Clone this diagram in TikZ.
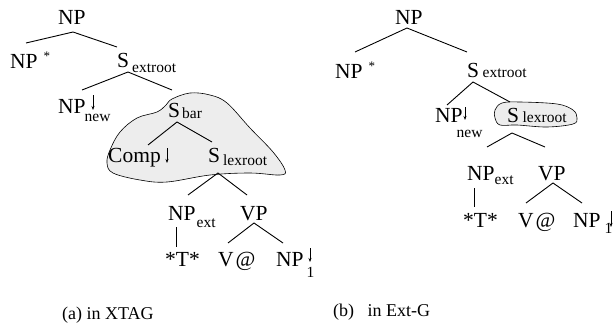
\documentclass[tikz,border=0pt]{standalone}
\usepackage{fontspec}
\setmainfont{Liberation Serif}
\usetikzlibrary{calc,arrows.meta}
\newcommand{\tsub}[3]{\rlap{\hspace{#1}\smash{\raisebox{-#2}{\fontsize{15.5}{16}\selectfont #3}}}}
\newcommand{\tstar}{\rlap{\hspace{6pt}\smash{\raisebox{8pt}{\fontsize{13}{13}\selectfont *}}}}
\begin{document}
\begin{tikzpicture}[x=1pt,y=-1pt,
  tn/.style={font=\fontsize{21.5}{24}\selectfont, inner sep=0pt, anchor=base west},
  captext/.style={font=\fontsize{18}{20}\selectfont, inner sep=0pt, anchor=base west},
  edge/.style={line width=0.9pt},
  blob/.style={fill=black!7, draw=black, line width=0.6pt},
  sarrow/.style={line width=0.6pt, -{Stealth[length=4pt,width=3pt]}}]
\useasboundingbox (0,0) rectangle (615,332);
% blobs
\draw[blob] plot[smooth cycle, tension=0.6] coordinates {(172,99) (190,93) (210,95) (227,103) (250,128) (273,152) (285,170) (280,175) (250,173) (210,175) (167,182) (140,180) (113,173) (107,163) (110,150) (120,132) (137,118) (157,112) (166,105)};
\draw[blob] plot[smooth cycle, tension=0.6] coordinates {(502,103) (520,102) (557,104) (573,110) (577,118) (573,124) (547,127) (517,125) (500,125) (495,118) (495,110)};
% tree (a)
\node[tn] (rootA) at (58,24) {NP};
\node[tn] (npstarA) at (10,68) {NP\tstar};
\node[tn] (sextA) at (117,67) {S\tsub{3pt}{5pt}{extroot}};
\node[tn] (npnewA) at (58,113) {NP\tsub{-1pt}{8pt}{new}};
\node[tn] (sbarA) at (168,117) {S\tsub{2pt}{1.5pt}{bar}};
\node[tn] (compA) at (108,162) {Comp};
\node[tn] (slexA) at (208,162) {S\tsub{3pt}{3pt}{lexroot}};
\node[tn] (npextA) at (168,220) {NP\tsub{1pt}{7pt}{ext}};
\node[tn] (vpA) at (240,220) {VP};
\node[tn] (tA) at (165,266) {*T*};
\node[tn] (vatA) at (218,266) {V\kern2pt@};
\node[tn] (np1A) at (276,266) {NP\tsub{3pt}{11pt}{1}};
\draw[edge] ($(npstarA.base west)+(16,-25)$) -- ($(rootA.base west)+(15,8)$) -- ($(sextA.base west)+(0,-20)$);
\draw[edge] ($(npnewA.base west)+(24,-23)$) -- ($(sextA.base west)+(11,5)$) -- ($(sbarA.base west)+(4,-27)$);
\draw[edge] ($(compA.base west)+(40,-17)$) -- ($(sbarA.base west)+(9,5)$) -- ($(slexA.base west)+(4,-20)$);
\draw[edge] ($(npextA.base west)+(20,-25)$) -- ($(slexA.base west)+(10,11)$) -- ($(vpA.base west)+(7,-25)$);
\draw[edge] ($(npextA.base west)+(8,7)$) -- ($(tA.base west)+(11,-19)$);
\draw[edge] ($(vatA.base west)+(10,-23)$) -- ($(vpA.base west)+(14,3)$) -- ($(np1A.base west)+(7,-23)$);
\draw[sarrow] ($(npnewA.base west)+(35,-18)$) -- ($(npnewA.base west)+(35,-3)$);
\draw[sarrow] ($(compA.base west)+(59,-14)$) -- ($(compA.base west)+(59,1)$);
\draw[sarrow] ($(np1A.base west)+(34,-18)$) -- ($(np1A.base west)+(34,-4)$);
% tree (b)
\node[tn] (rootB) at (395,24) {NP};
\node[tn] (npstarB) at (335,78) {NP\tstar};
\node[tn] (sextB) at (467,77) {S\tsub{3.5pt}{0pt}{extroot}};
\node[tn] (npnewB) at (435,122) {NP\tsub{-6pt}{15pt}{new}};
\node[tn] (slexB) at (507,122) {S\tsub{3.5pt}{0pt}{lexroot}};
\node[tn] (npextB) at (467,180) {NP\tsub{0pt}{4pt}{ext}};
\node[tn] (vpB) at (538,180) {VP};
\node[tn] (tB) at (463,227) {*T*};
\node[tn] (vatB) at (518,227) {V\kern2pt@};
\node[tn] (np1B) at (573,227) {NP\tsub{4pt}{6pt}{1}};
\draw[edge] ($(npstarB.base west)+(20,-26)$) -- ($(rootB.base west)+(12,4)$) -- ($(sextB.base west)+(0,-25)$);
\draw[edge] ($(npnewB.base west)+(12,-17)$) -- ($(sextB.base west)+(6,5)$) -- ($(slexB.base west)+(3,-20)$);
\draw[edge] ($(npextB.base west)+(20,-33)$) -- ($(slexB.base west)+(5,11)$) -- ($(vpB.base west)+(7,-33)$);
\draw[edge] ($(npextB.base west)+(7,8)$) -- ($(tB.base west)+(11,-20)$);
\draw[edge] ($(vatB.base west)+(8,-24)$) -- ($(vpB.base west)+(15,3)$) -- ($(np1B.base west)+(9,-24)$);
\draw[sarrow] ($(npnewB.base west)+(30,-15)$) -- ($(npnewB.base west)+(30,-2)$);
\draw[sarrow] ($(np1B.base west)+(38,-16)$) -- ($(np1B.base west)+(38,0)$);
% captions
\node[captext] (capA) at (62,319) {(a) in XTAG};
\node[captext] (capB) at (333,316) {(b)\hspace{0.5em} in Ext-G};
\end{tikzpicture}
\end{document}
